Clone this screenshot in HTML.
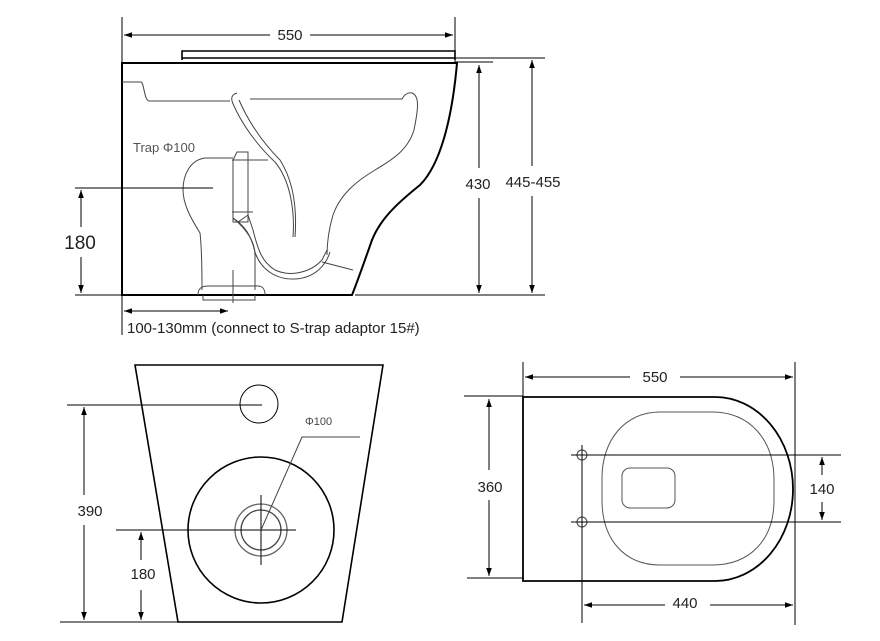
<!DOCTYPE html>
<html><head><meta charset="utf-8"><style>
html,body{margin:0;padding:0;background:#fff;}
svg{display:block;font-family:"Liberation Sans",Arial,sans-serif;}
</style></head><body>
<svg width="880" height="641" viewBox="0 0 880 641" xmlns="http://www.w3.org/2000/svg">
<defs>
<marker id="a" viewBox="0 0 10 10" refX="10" refY="5" markerWidth="8" markerHeight="8" orient="auto-start-reverse"><path d="M0,1.5 L10,5 L0,8.5 z" fill="#000"/></marker>
</defs>
<g stroke="#000" fill="none" stroke-width="1">
<line x1="122" y1="17" x2="122" y2="335"/>
<line x1="455" y1="17" x2="455" y2="62"/>
<line x1="124" y1="35" x2="270" y2="35" marker-start="url(#a)"/>
<line x1="310" y1="35" x2="453" y2="35" marker-end="url(#a)"/>
<path d="M182,60 L182,51 L455,51 L455,60" stroke-width="1.6"/>
<line x1="182" y1="58" x2="455" y2="58" stroke-width="1.6"/>
<line x1="455" y1="58" x2="545" y2="58"/>
<line x1="455" y1="62" x2="493" y2="62"/>
<path d="M122,295 L122,63 L457,63 C452,120 440,165 420,185 C395,205 380,220 372,240 C365,260 358,280 352,295 Z" stroke-width="2"/>
<line x1="355" y1="295" x2="545" y2="295"/>
<line x1="75" y1="295" x2="122" y2="295"/>
<path d="M122,82 L141,82 C144,82 144,100 149,101 L230,101" stroke="#444"/>
<path d="M250,99 L402,99 C404,95 408,92 412,93 C420,96 418,110 414,130 C408,150 392,160 375,170 C355,182 340,195 333,215 C328,232 327,245 327,255" stroke="#444"/>
<path d="M237,93 C230,95 231,100 234,106 C245,130 262,150 275,162 C290,180 295,210 293,237" stroke="#444"/>
<path d="M239,100 C250,125 265,145 280,160 C294,182 297,210 295,237" stroke="#444"/>
<path d="M233,218 L238,222 L248,215 L253,230 C258,250 262,262 275,270 C290,277 310,273 322,260 L327,250" stroke="#444"/>
<path d="M233,218 C245,226 251,235 255,252 C260,268 275,280 295,279 C315,278 326,265 330,252" stroke="#444"/>
<line x1="322" y1="262" x2="353" y2="270" stroke="#444"/>
<path d="M233,160 L237,152 L248,152 L248,222 L233,222 Z" stroke="#444"/>
<line x1="232" y1="160" x2="268" y2="160" stroke="#444"/>
<line x1="232" y1="212" x2="253" y2="212" stroke="#444"/>
<path d="M233,158 L205,158 C190,160 183,175 183,190 C183,205 192,220 200,233 C202,250 202,270 202,290" stroke="#444"/>
<path d="M233,218 C245,228 255,240 255,255 L255,290" stroke="#444"/>
<path d="M198,295 C198,288 202,286 208,286 L258,286 C263,286 265,290 265,295" stroke="#444"/>
<path d="M203,295 L203,300 L255,300 L255,295" stroke="#444"/>
<line x1="233" y1="270" x2="233" y2="303" stroke="#444"/>
<line x1="75" y1="188" x2="213" y2="188"/>
<line x1="81" y1="190" x2="81" y2="227" marker-start="url(#a)"/>
<line x1="81" y1="257" x2="81" y2="293" marker-end="url(#a)"/>
<line x1="124" y1="311" x2="228" y2="311" marker-start="url(#a)" marker-end="url(#a)"/>
<line x1="479" y1="65" x2="479" y2="168" marker-start="url(#a)"/>
<line x1="479" y1="198" x2="479" y2="293" marker-end="url(#a)"/>
<line x1="532" y1="60" x2="532" y2="166" marker-start="url(#a)"/>
<line x1="532" y1="196" x2="532" y2="293" marker-end="url(#a)"/>

<path d="M135,365 L383,365 L342,622 L178,622 Z" stroke-width="1.6"/>
<circle cx="259" cy="404" r="19"/>
<line x1="67" y1="405" x2="262" y2="405"/>
<line x1="60" y1="622" x2="178" y2="622"/>
<line x1="84" y1="407" x2="84" y2="495" marker-start="url(#a)"/>
<line x1="84" y1="525" x2="84" y2="620" marker-end="url(#a)"/>
<circle cx="261" cy="530" r="73" stroke-width="1.6"/>
<circle cx="261" cy="530" r="26" stroke="#666" stroke-width="1.3"/>
<circle cx="261" cy="530" r="20" stroke="#444" stroke-width="1.3"/>
<line x1="261" y1="495" x2="261" y2="565"/>
<line x1="116" y1="530" x2="296" y2="530"/>
<line x1="141" y1="532" x2="141" y2="560" marker-start="url(#a)"/>
<line x1="141" y1="590" x2="141" y2="620" marker-end="url(#a)"/>
<path d="M261,530 L302,437 L360,437" stroke="#444"/>

<line x1="523" y1="362" x2="523" y2="397"/>
<line x1="795" y1="362" x2="795" y2="625"/>
<line x1="525" y1="377" x2="630" y2="377" marker-start="url(#a)"/>
<line x1="680" y1="377" x2="793" y2="377" marker-end="url(#a)"/>
<path d="M715,397 L523,397 L523,581 L715,581" stroke-width="1.8"/>
<path d="M715,397 A78,92 0 0 1 715,581" stroke-width="1.8"/>
<line x1="464" y1="396" x2="523" y2="396"/>
<line x1="467" y1="578" x2="523" y2="578"/>
<line x1="489" y1="399" x2="489" y2="470" marker-start="url(#a)"/>
<line x1="489" y1="500" x2="489" y2="576" marker-end="url(#a)"/>
<path d="M660,412 L712,412 C750,412 774,440 774,480 L774,500 C774,540 750,565 712,565 L660,565 C625,565 602,540 602,500 L602,478 C602,440 625,412 660,412 Z" stroke="#555"/>
<rect x="622" y="468" width="53" height="40" rx="8" stroke="#555"/>
<circle cx="582" cy="455" r="5" stroke="#444"/>
<circle cx="582" cy="522" r="5" stroke="#444"/>
<line x1="582" y1="445" x2="582" y2="623"/>
<line x1="571" y1="455" x2="841" y2="455"/>
<line x1="571" y1="522" x2="841" y2="522"/>
<line x1="822" y1="457" x2="822" y2="475" marker-start="url(#a)"/>
<line x1="822" y1="502" x2="822" y2="520" marker-end="url(#a)"/>
<line x1="584" y1="605" x2="665" y2="605" marker-start="url(#a)"/>
<line x1="710" y1="605" x2="793" y2="605" marker-end="url(#a)"/>
</g>
<g fill="#222" font-size="15">
<text x="290" y="40" text-anchor="middle">550</text>
<text x="478" y="189" text-anchor="middle">430</text>
<text x="533" y="187" text-anchor="middle">445-455</text>
<text x="80" y="249" text-anchor="middle" font-size="19">180</text>
<text x="127" y="333" font-size="15">100-130mm (connect to S-trap adaptor 15#)</text>
<text x="133" y="152" font-size="13" fill="#555">Trap Φ100</text>
<text x="90" y="516" text-anchor="middle">390</text>
<text x="143" y="579" text-anchor="middle">180</text>
<text x="305" y="425" font-size="11" fill="#444">Φ100</text>
<text x="655" y="378" text-anchor="middle" dominant-baseline="middle">550</text>
<text x="490" y="492" text-anchor="middle">360</text>
<text x="822" y="494" text-anchor="middle">140</text>
<text x="685" y="608" text-anchor="middle">440</text>
</g>
</svg>
</body></html>
